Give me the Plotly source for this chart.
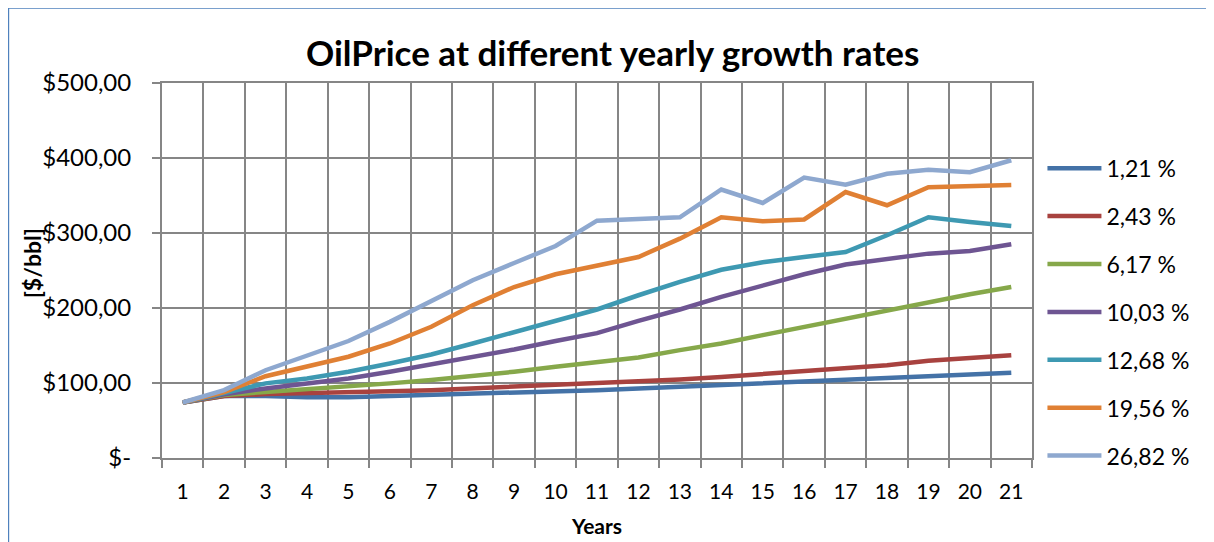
import plotly.graph_objects as go

years = list(range(1, 22))
year_labels = [str(y) for y in years]

series_names = ["1,21 %", "2,43 %", "6,17 %", "10,03 %", "12,68 %", "19,56 %", "26,82 %"]

rate_1_21 = [74, 82.6, 82.6, 81, 81, 82.6, 84, 85, 87, 88, 90.5, 92.8, 95, 97, 99.5, 101.6, 104, 106, 108, 110.5, 113.6]
rate_2_43 = [74, 82.6, 85.2, 86, 87.5, 89, 90.5, 92.8, 95, 97, 99.5, 101.6, 104.7, 108, 111.8, 115, 119.4, 123.8, 129.6, 134, 137]
rate_6_17 = [74, 84, 88, 91.5, 95, 99.5, 104, 109, 115, 121.6, 127.5, 134, 143.8, 152.7, 163.8, 175, 186, 197, 208, 218.4, 228]
rate_10_03 = [74, 85, 92.8, 99.5, 106, 115, 124.7, 135, 144.7, 156, 166.5, 182.8, 198, 214.8, 230, 245, 258, 266, 272.5, 276, 285]
rate_12_68 = [74, 86, 99.5, 106, 115, 126, 138, 152.7, 168, 183.7, 198, 217, 234.8, 251, 261, 268, 274.7, 297, 321, 314.7, 309.3]
rate_19_56 = [74, 88, 109, 122.5, 135, 152.7, 175, 203.7, 228, 245, 257, 268, 292.5, 321, 315.6, 318, 354.6, 337, 361, 362, 364]
rate_26_82 = [74, 90.5, 117, 136, 156, 181.5, 210, 237, 260, 282.7, 316.5, 318, 321, 358, 340, 374, 364.5, 379, 384.4, 381, 397]

series_values = [rate_1_21, rate_2_43, rate_6_17, rate_10_03, rate_12_68, rate_19_56, rate_26_82]
series_colors = ["#4472A7", "#A8423F", "#86A84A", "#6E5592", "#3E99B2", "#E08034", "#8EA8CF"]

y_tick_values = [0, 100, 200, 300, 400, 500]
y_tick_labels = ["$-", "$100,00", "$200,00", "$300,00", "$400,00", "$500,00"]

# category boundaries (grid lines / tick marks sit between the years)
year_boundaries = [y - 0.5 for y in years] + [years[-1] + 0.5]

FONT = "Lato, 'Open Sans', sans-serif"
GRID = "#868686"

fig = go.Figure()
for i, (name, vals, col) in enumerate(zip(series_names, series_values, series_colors)):
    fig.add_trace(go.Scatter(
        x=years, y=vals, name=name, mode="lines",
        line=dict(color=col, width=4.5),
        legendgroup=f"g{i}",
    ))

# the page body has an 8px margin, so the figure is offset by (8, 8)
fig.update_layout(
    width=1206, height=534,
    margin=dict(l=154, r=182, t=75, b=84, autoexpand=False),
    paper_bgcolor="white", plot_bgcolor="white",
    font=dict(family=FONT, size=22, color="#000000"),
    title=dict(
        text="<b>OilPrice at different yearly growth rates</b>",
        font=dict(family=FONT, size=35, color="#000000"),
        xref="paper", x=0.518, xanchor="center",
        yref="container", y=1 - 46 / 534, yanchor="middle",
    ),
    showlegend=True,
    legend=dict(
        x=1.012, xanchor="left", y=0.83, yanchor="top",
        font=dict(family=FONT, size=23),
        tracegroupgap=15,
        itemwidth=54,
        bgcolor="rgba(0,0,0,0)",
    ),
    xaxis=dict(
        range=[0.5, 21.5],
        automargin=False,
        tickmode="array", tickvals=years, ticktext=year_labels,
        ticks="", showgrid=False, zeroline=False,
        showline=True, linecolor=GRID, linewidth=2, mirror=True,
        ticklabelstandoff=14,
        tickfont=dict(family=FONT, size=21),
        minor=dict(
            tickmode="array", tickvals=year_boundaries,
            ticks="outside", ticklen=8, tickcolor=GRID, tickwidth=2,
            showgrid=True, gridcolor=GRID, gridwidth=2,
        ),
        title=dict(text="<b>Years</b>", font=dict(family=FONT, size=21), standoff=17),
    ),
    yaxis=dict(
        range=[0, 500],
        automargin=False,
        tickvals=y_tick_values, ticktext=y_tick_labels,
        showgrid=True, gridcolor=GRID, gridwidth=2,
        showline=True, linecolor=GRID, linewidth=2, mirror=True,
        ticks="outside", ticklen=8, tickcolor=GRID, tickwidth=2,
        ticklabelstandoff=16,
        tickfont=dict(family=FONT, size=24),
        zeroline=False,
    ),
    annotations=[dict(
        text="<b>[$/bbl]</b>", textangle=-90,
        xref="paper", yref="paper", x=-0.149, y=0.52,
        xanchor="center", yanchor="middle", showarrow=False,
        font=dict(family=FONT, size=23, color="#000000"),
    )],
    shapes=[dict(
        type="rect", xref="paper", yref="paper",
        x0=-0.1765, x1=1.4, y0=-0.4, y1=1.2,
        line=dict(color="#4F81BD", width=1.5), fillcolor="rgba(0,0,0,0)",
        layer="below",
    )],
)

fig.write_html("out.html")
